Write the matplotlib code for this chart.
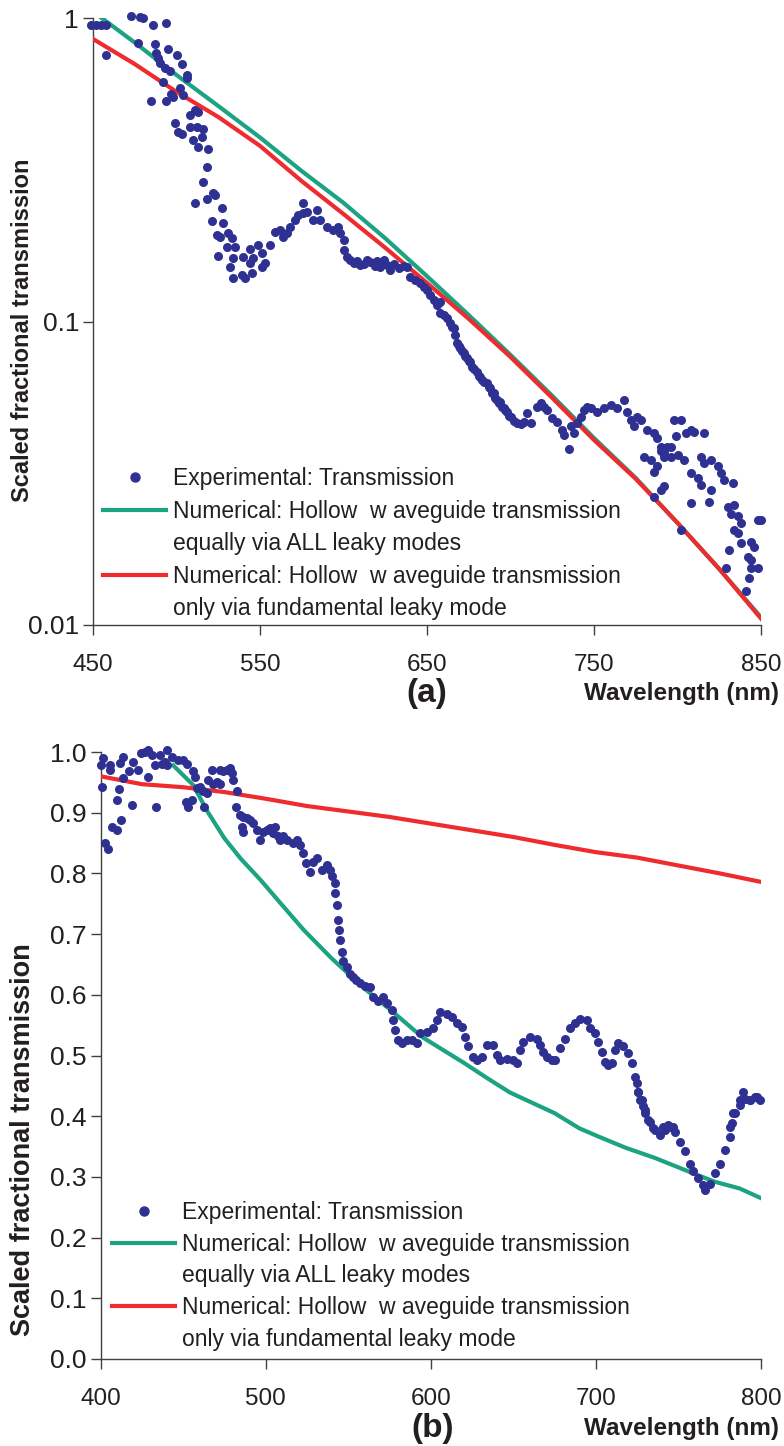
import matplotlib
matplotlib.use("Agg")
import matplotlib.pyplot as plt
from matplotlib.lines import Line2D
from matplotlib.ticker import FixedLocator, FixedFormatter, NullLocator

plt.rcParams['font.family'] = ['Liberation Sans', 'DejaVu Sans']

BLUE = '#2e3192'
GREEN = '#1ba382'
RED = '#ee2b2f'
INK = '#231f20'
AXC = '#404040'

# ---- panel (a): log scale, 450-850 nm ----
a_exp_wl = [449, 452, 455, 458, 458, 473, 478, 480, 477, 486, 494, 485, 487, 488, 489, 490,
            492, 493, 496, 495, 500, 503, 506, 506, 494, 498, 502, 504, 497, 508, 511, 513,
            499, 501, 503, 508, 512, 516, 510, 515, 513, 519, 518, 516, 518, 522, 523, 511,
            527, 521, 528, 524, 526, 531, 533, 530, 535, 525, 534, 532, 534, 539, 541, 540,
            544, 546, 549, 551, 553, 551, 545, 544, 556, 559, 562, 564, 566, 568, 571, 573,
            576, 578, 582, 584, 576, 586, 590, 594, 597, 598, 600, 600, 602, 606, 610, 614,
            618, 622, 604, 608, 612, 616, 619, 620, 624, 626, 628, 630, 633, 636, 638, 640,
            643, 646, 648, 650, 652, 654, 656, 658, 658, 660, 662, 665, 664, 666, 667, 668,
            669, 670, 671, 672, 673, 674, 675, 676, 677, 678, 680, 681, 682, 683, 684, 686,
            687, 688, 689, 690, 691, 692, 693, 694, 695, 696, 697, 698, 699, 700, 702, 704,
            706, 708, 710, 712, 716, 718, 720, 722, 725, 728, 731, 732, 735, 736, 738, 740,
            742, 744, 746, 748, 752, 756, 760, 764, 768, 770, 772, 774, 776, 778, 782, 786,
            788, 790, 792, 796, 799, 802, 805, 808, 810, 816, 804, 808, 814, 816, 820, 824,
            826, 828, 833, 820, 819, 808, 814, 812, 800, 792, 788, 784, 780, 786, 790, 794,
            796, 798, 830, 834, 832, 836, 838, 834, 836, 838, 844, 846, 842, 844, 848, 844,
            843, 848, 850, 831, 829, 841, 802, 786, 790, 792]
a_exp_val = [0.95, 0.95, 0.95, 0.95, 0.755, 1.015, 1.01, 1.0, 0.83, 0.95, 0.963, 0.533, 0.82, 0.767, 0.738, 0.711,
             0.616, 0.685, 0.669, 0.79, 0.755, 0.705, 0.65, 0.634, 0.533, 0.549, 0.588, 0.557, 0.56, 0.479, 0.498, 0.49,
             0.451, 0.421, 0.415, 0.437, 0.437, 0.43, 0.396, 0.406, 0.376, 0.370, 0.323, 0.288, 0.253, 0.265, 0.261, 0.246,
             0.237, 0.214, 0.211, 0.193, 0.19, 0.196, 0.188, 0.176, 0.176, 0.164, 0.162, 0.151, 0.139, 0.142, 0.139, 0.163,
             0.173, 0.162, 0.179, 0.168, 0.156, 0.151, 0.145, 0.156, 0.179, 0.197, 0.2, 0.19, 0.196, 0.205, 0.216, 0.224,
             0.228, 0.23, 0.216, 0.233, 0.246, 0.216, 0.205, 0.2, 0.205, 0.196, 0.186, 0.172, 0.163, 0.156, 0.154, 0.16,
             0.156, 0.151, 0.16, 0.158, 0.155, 0.157, 0.152, 0.158, 0.16, 0.153, 0.148, 0.155, 0.150, 0.152, 0.151, 0.14,
             0.137, 0.134, 0.130, 0.127, 0.122, 0.118, 0.113, 0.116, 0.107, 0.105, 0.103, 0.096, 0.099, 0.095, 0.090, 0.0849,
             0.083, 0.0818, 0.080, 0.0787, 0.077, 0.0759, 0.074, 0.0736, 0.0708, 0.070, 0.0682, 0.066, 0.0656, 0.0641, 0.063, 0.0627,
             0.061, 0.0604, 0.0581, 0.058, 0.056, 0.0551, 0.054, 0.0543, 0.0523, 0.052, 0.051, 0.0504, 0.049, 0.0486, 0.047, 0.0462,
             0.046, 0.0468, 0.0498, 0.0462, 0.0524, 0.0537, 0.0524, 0.0511, 0.048, 0.0468, 0.044, 0.0423, 0.0379, 0.0451, 0.0428, 0.0462,
             0.0486, 0.0511, 0.0524, 0.0518, 0.0505, 0.0518, 0.0531, 0.0518, 0.0551, 0.0505, 0.0473, 0.0451, 0.0486, 0.0473, 0.044, 0.0428,
             0.0412, 0.0387, 0.0368, 0.0387, 0.0418, 0.0473, 0.0428, 0.044, 0.0434, 0.0428, 0.035, 0.0316, 0.0359, 0.0341, 0.035, 0.0333,
             0.0316, 0.0301, 0.0293, 0.0279, 0.0255, 0.0253, 0.0289, 0.0304, 0.0363, 0.0359, 0.0333, 0.035, 0.0359, 0.032, 0.0373, 0.0387,
             0.0359, 0.0473, 0.0245, 0.0248, 0.0233, 0.0228, 0.0216, 0.0206, 0.0201, 0.0186, 0.0188, 0.0181, 0.0168, 0.0164, 0.0154, 0.0154,
             0.0143, 0.0222, 0.0222, 0.0177, 0.0154, 0.0129, 0.0206, 0.0265, 0.0279, 0.0286]

a_model_wl = [450, 475, 500, 525, 550, 575, 600, 625, 650, 675, 700, 725, 750, 775, 800, 825, 850]
a_all_modes = [1.05, 0.83, 0.649, 0.513, 0.404, 0.313, 0.246, 0.188, 0.141, 0.105, 0.0776, 0.0569,
               0.0413, 0.0305, 0.0217, 0.0153, 0.0106]
a_fundamental = [0.853, 0.705, 0.571, 0.472, 0.379, 0.290, 0.226, 0.175, 0.134, 0.102, 0.0764, 0.056,
                 0.0407, 0.0303, 0.0217, 0.0153, 0.0105]

# ---- panel (b): linear scale, 400-800 nm ----
b_exp_wl = [401.7, 400.1, 400.7, 405.8, 405.8, 402.7, 404.7, 406.8, 409.8, 409.8, 411.4, 412.2, 411.8, 413.8,
            413.4, 417.4, 418.9, 419.9, 422.9, 424.3, 427.0, 428.9, 428.9, 431.0, 433.6, 433.0, 436.0, 437.1,
            439.1, 440.1, 440.5, 443.1, 447.1, 450.2, 452.2, 451.8, 453.2, 455.2, 456.2, 457.2, 458.3, 460.3,
            462.7, 462.3, 464.3, 465.3, 467.3, 467.9, 470.4, 472.4, 472.4, 474.4, 476.4, 478.4, 479.5, 480.4,
            482.5, 482.1, 484.5, 486.5, 488.6, 485.5, 490.6, 492.6, 486.5, 494.6, 496.6, 498.6, 500.7, 502.7,
            505.7, 504.7, 507.7, 508.7, 510.7, 512.8, 516.8, 518.8, 520.8, 522.8, 524.5, 526.9, 528.9, 530.9,
            533.9, 536.9, 538.9, 540.0, 541.9, 541.9, 543.0, 544.0, 544.6, 545.0, 546.0, 547.0, 549.0, 551.0,
            553.0, 555.0, 557.0, 560.0,
            563.2, 565.2, 568.2, 571.3, 573.3, 576.3, 577.3, 578.3, 580.4, 582.4, 585.4, 588.4, 591.5, 593.5,
            597.5, 601.6, 603.6, 605.6, 609.6, 612.7, 615.7, 618.7, 620.7, 622.8, 625.8, 627.8, 630.8, 633.9,
            637.9, 639.9, 641.9, 646.0, 650.0, 652.0, 654.0, 656.1, 660.1, 664.1, 666.2, 668.2, 670.2, 673.2,
            675.3, 678.3, 681.3, 684.3, 687.4, 690.4, 694.4, 696.5, 699.5, 701.5, 703.5, 705.5, 707.6, 709.6,
            711.6, 713.6, 716.6, 719.7, 721.7, 723.7, 724.7, 725.7, 727.7, 729.8, 731.8, 734.8, 740.9, 744.9,
            725.3, 726.8, 728.3, 729.8, 732.8, 735.9, 738.9, 741.9, 743.4, 746.5, 748.0, 751.0, 754.0, 757.0,
            758.6, 761.6, 764.6, 766.1, 769.2, 772.2, 775.2, 778.2, 781.2, 782.7, 784.2, 787.3, 790.3, 793.3,
            796.3, 799.3, 781.3, 783.3, 787.3, 789.3, 793.4, 797.4]
b_exp_val = [0.990, 0.979, 0.942, 0.979, 0.970, 0.850, 0.841, 0.877, 0.921, 0.871, 0.939, 0.888, 0.982, 0.992,
             0.957, 0.968, 0.913, 0.984, 0.970, 0.998, 1.000, 1.003, 0.959, 0.995, 0.910, 0.979, 0.995, 0.981,
             0.984, 1.003, 0.979, 0.992, 0.986, 0.986, 0.981, 0.918, 0.910, 0.921, 0.968, 0.959, 0.940, 0.943,
             0.910, 0.935, 0.932, 0.954, 0.970, 0.948, 0.951, 0.948, 0.970, 0.968, 0.970, 0.973, 0.965, 0.954,
             0.935, 0.910, 0.896, 0.893, 0.891, 0.877, 0.888, 0.883, 0.869, 0.871, 0.855, 0.869, 0.871, 0.874,
             0.877, 0.866, 0.861, 0.855, 0.861, 0.855, 0.850, 0.855, 0.847, 0.833, 0.817, 0.803, 0.819, 0.825,
             0.806, 0.814, 0.806, 0.795, 0.784, 0.767, 0.748, 0.723, 0.707, 0.690, 0.670, 0.655, 0.645, 0.635,
             0.630, 0.625, 0.620, 0.615,
             0.613, 0.597, 0.589, 0.597, 0.586, 0.575, 0.558, 0.542, 0.526, 0.520, 0.526, 0.526, 0.520, 0.537,
             0.539, 0.545, 0.558, 0.572, 0.569, 0.564, 0.553, 0.547, 0.531, 0.515, 0.498, 0.493, 0.498, 0.517,
             0.517, 0.501, 0.493, 0.495, 0.493, 0.487, 0.509, 0.523, 0.531, 0.528, 0.517, 0.506, 0.498, 0.493,
             0.493, 0.512, 0.528, 0.545, 0.553, 0.560, 0.558, 0.545, 0.537, 0.523, 0.506, 0.490, 0.484, 0.487,
             0.509, 0.520, 0.515, 0.504, 0.487, 0.465, 0.454, 0.440, 0.427, 0.410, 0.394, 0.380, 0.383, 0.383,
             0.440, 0.427, 0.416, 0.405, 0.391, 0.377, 0.369, 0.377, 0.385, 0.383, 0.374, 0.358, 0.342, 0.322,
             0.309, 0.298, 0.287, 0.278, 0.289, 0.306, 0.322, 0.344, 0.366, 0.388, 0.405, 0.418, 0.429, 0.427,
             0.432, 0.427, 0.383, 0.405, 0.427, 0.440, 0.427, 0.432]

b_all_wl = [444, 456, 465, 475, 485, 497, 509, 523, 540, 560, 577, 595, 620, 634, 648, 675, 690,
            702, 718, 736, 757, 772, 787, 800]
b_all_modes = [0.978, 0.946, 0.901, 0.858, 0.824, 0.789, 0.751, 0.707, 0.660, 0.610, 0.572, 0.530,
               0.488, 0.463, 0.439, 0.405, 0.380, 0.366, 0.348, 0.331, 0.308, 0.292, 0.281, 0.265]
b_fund_wl = [400, 425, 450, 475, 500, 525, 550, 575, 600, 625, 650, 675, 700, 725, 750, 775, 800]
b_fundamental = [0.960, 0.947, 0.942, 0.934, 0.923, 0.911, 0.902, 0.893, 0.882, 0.871, 0.860, 0.847,
                 0.835, 0.826, 0.813, 0.800, 0.786]

legend_labels = ['Experimental: Transmission',
                 'Numerical: Hollow  w aveguide transmission',
                 'equally via ALL leaky modes',
                 'Numerical: Hollow  w aveguide transmission',
                 'only via fundamental leaky mode']

W, H = 784, 1446


def fx(px):
    return px / W


def fy(py):
    return 1 - py / H


fig = plt.figure(figsize=(W / 100, H / 100), dpi=100)
ax1 = fig.add_axes([fx(93), fy(625), 668 / W, 607 / H])
ax2 = fig.add_axes([fx(100.5), fy(1359), 660.5 / W, 607 / H])


def style(ax):
    for s in ['top', 'right']:
        ax.spines[s].set_visible(False)
    for s in ['left', 'bottom']:
        ax.spines[s].set_color(AXC)
        ax.spines[s].set_linewidth(1.0)
    ax.tick_params(axis='both', direction='out', length=7, width=1, color=AXC, labelcolor=INK)
    ax.tick_params(axis='x', pad=14, labelsize=17.5)
    ax.tick_params(axis='y', pad=3, labelsize=19)


def add_legend(ax, x, y, spacing):
    handles = [Line2D([], [], marker='o', ls='none', color=BLUE, ms=6.5),
               Line2D([], [], color=GREEN, lw=3),
               Line2D([], [], ls='none'),
               Line2D([], [], color=RED, lw=3),
               Line2D([], [], ls='none')]
    leg = ax.legend(handles, legend_labels, loc='upper left', bbox_to_anchor=(fx(x), fy(y)),
                    bbox_transform=fig.transFigure, frameon=False, borderpad=0, borderaxespad=0,
                    handlelength=2.75, handletextpad=0.3, labelspacing=spacing, fontsize=16.5)
    for t in leg.get_texts():
        t.set_color(INK)


# panel (a)
ax1.plot(a_model_wl, a_all_modes, color=GREEN, lw=3, zorder=2)
ax1.plot(a_model_wl, a_fundamental, color=RED, lw=3, zorder=3)
ax1.plot(a_exp_wl, a_exp_val, 'o', color=BLUE, ms=6.5, mew=0, zorder=4, clip_on=False)
ax1.set_yscale('log')
ax1.set_xlim(450, 850)
ax1.set_ylim(0.01, 1)
ax1.xaxis.set_major_locator(FixedLocator([450, 550, 650, 750, 850]))
ax1.yaxis.set_major_locator(FixedLocator([0.01, 0.1, 1]))
ax1.yaxis.set_major_formatter(FixedFormatter(['0.01', '0.1', '1']))
ax1.yaxis.set_minor_locator(NullLocator())
style(ax1)
add_legend(ax1, 103, 467, 0.42)

# panel (b)
ax2.plot(b_all_wl, b_all_modes, color=GREEN, lw=3, zorder=2)
ax2.plot(b_fund_wl, b_fundamental, color=RED, lw=3, zorder=3)
ax2.plot(b_exp_wl, b_exp_val, 'o', color=BLUE, ms=6.5, mew=0, zorder=4, clip_on=False)
ax2.set_xlim(400, 800)
ax2.set_ylim(0, 1.0)
ax2.set_xticks([400, 500, 600, 700, 800])
ax2.set_yticks([i / 10 for i in range(11)])
ax2.set_yticklabels(['%.1f' % (i / 10) for i in range(11)])
style(ax2)
add_legend(ax2, 112, 1201, 0.38)

# axis titles and panel tags
fig.text(fx(23), fy(330), 'Scaled fractional transmission', rotation=90, ha='center',
         va='center', fontsize=17, fontweight='bold', color=INK)
fig.text(fx(23), fy(1140), 'Scaled fractional transmission', rotation=90, ha='center',
         va='center', fontsize=19.5, fontweight='bold', color=INK)
for yc, tag, xc in ((693, '(a)', 427), (1428, '(b)', 433)):
    fig.text(fx(779), fy(yc), 'Wavelength (nm)', ha='right', va='center', fontsize=17.5,
             fontweight='bold', color=INK)
    fig.text(fx(xc), fy(yc), tag, ha='center', va='center', fontsize=24,
             fontweight='bold', color=INK)

fig.savefig('out.png', dpi=100)
